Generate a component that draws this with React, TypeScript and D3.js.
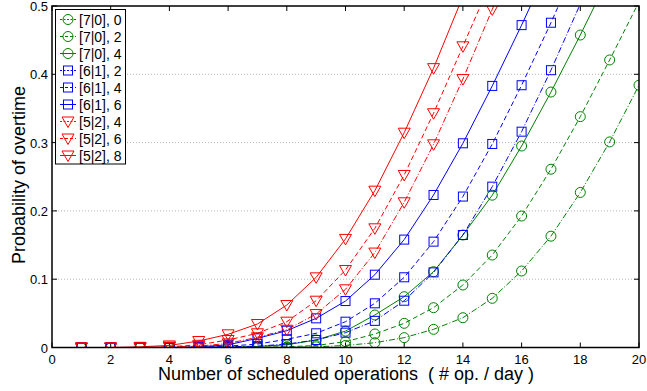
import React from 'react';
import * as d3 from 'd3';

const seriesNames = ['[7|0], 0', '[7|0], 2', '[7|0], 4', '[6|1], 2', '[6|1], 4', '[6|1], 6', '[5|2], 4', '[5|2], 6', '[5|2], 8'];

// values at x = 1, 2, 3, ... (points above 0.5 are clipped, as in the original)
const g70_0 = [0, 0, 0, 0, 0, 0, 0, 0.0005, 0.001, 0.003, 0.007, 0.0144, 0.0266, 0.0436, 0.072, 0.112, 0.163, 0.227, 0.301, 0.384];
const g70_2 = [0, 0, 0, 0, 0, 0, 0.0005, 0.001, 0.003, 0.0085, 0.0198, 0.0354, 0.0583, 0.0915, 0.1354, 0.1925, 0.261, 0.338, 0.421, 0.506];
const g70_4 = [0, 0, 0, 0, 0, 0.0005, 0.0015, 0.004, 0.011, 0.024, 0.0476, 0.0744, 0.111, 0.1647, 0.223, 0.295, 0.374, 0.4575, 0.545];
const b61_2 = [0, 0, 0, 0, 0, 0.001, 0.002, 0.005, 0.011, 0.0217, 0.039, 0.0685, 0.11, 0.1647, 0.2355, 0.316, 0.406, 0.503];
const b61_4 = [0, 0, 0, 0, 0.0005, 0.002, 0.005, 0.012, 0.0208, 0.0378, 0.0647, 0.1028, 0.155, 0.221, 0.298, 0.384, 0.4755, 0.572];
const b61_6 = [0, 0, 0, 0, 0.001, 0.004, 0.0134, 0.0246, 0.0427, 0.068, 0.1066, 0.158, 0.2233, 0.299, 0.383, 0.472, 0.565];
const r52_4 = [0, 0, 0, 0.001, 0.002, 0.006, 0.015, 0.026, 0.049, 0.0852, 0.139, 0.2126, 0.2975, 0.393, 0.495, 0.6];
const r52_6 = [0, 0, 0, 0.001, 0.004, 0.011, 0.0208, 0.0378, 0.0685, 0.1135, 0.1745, 0.2526, 0.343, 0.441, 0.54];
const r52_8 = [0, 0, 0.001, 0.003, 0.0095, 0.0193, 0.0344, 0.0622, 0.1027, 0.159, 0.2296, 0.3145, 0.409, 0.514];

const seriesValues = [g70_0, g70_2, g70_4, b61_2, b61_4, b61_6, r52_4, r52_6, r52_8];
const seriesColors = ['#008000', '#008000', '#008000', '#0000ff', '#0000ff', '#0000ff', '#ff0000', '#ff0000', '#ff0000'];
const seriesDash = ['6,2,1,2', '5,3', '', '6,2,1,2', '5,3', '', '6,2,1,2', '5,3', ''];
const seriesMarkers = ['circle', 'circle', 'circle', 'square', 'square', 'square', 'triangle', 'triangle', 'triangle'];

const xTicks = [0, 2, 4, 6, 8, 10, 12, 14, 16, 18, 20];
const yTicks = [0, 0.1, 0.2, 0.3, 0.4, 0.5];
const yGrid = [0.1, 0.2, 0.3, 0.4];

const W = 647;
const H = 391;
const FONT = '"Liberation Sans", Arial, Helvetica, sans-serif';

function Marker({ kind, x, y, color }: { kind: string; x: number; y: number; color: string }) {
  if (kind === 'circle') return <circle cx={x} cy={y} r={5} fill="none" stroke={color} strokeWidth={1} />;
  if (kind === 'square') return <rect x={x - 4.5} y={y - 4.5} width={9} height={9} fill="none" stroke={color} strokeWidth={1} />;
  const p = `${x - 6},${y - 4.5} ${x + 6},${y - 4.5} ${x},${y + 6}`;
  return <polygon points={p} fill="none" stroke={color} strokeWidth={1} />;
}

export default function App() {
  const x = d3.scaleLinear().domain([0, 20]).range([52, 639]);
  const y = d3.scaleLinear().domain([0, 0.5]).range([347.5, 6]);
  const line = d3.line<number>().x((_, i) => x(i + 1)).y((d) => y(d));
  const [x0, x1] = x.range();
  const [yb, yt] = y.range();

  return (
    <svg width={W} height={H} style={{ position: 'absolute', left: 0, top: 0, background: '#fff' }} fontFamily={FONT}>
      <defs>
        <clipPath id="plotclip">
          <rect x={x0} y={yt} width={x1 - x0} height={yb - yt} />
        </clipPath>
      </defs>
      <rect x={0} y={0} width={W} height={H} fill="#fff" />
      {yGrid.map((t) => (
        <line key={t} x1={x0} x2={x1} y1={y(t)} y2={y(t)} stroke="#b4b4b4" strokeWidth={1} strokeDasharray="1,2" />
      ))}
      {/* ticks */}
      {xTicks.map((t) => (
        <g key={'xt' + t}>
          <line x1={x(t)} x2={x(t)} y1={yb} y2={yb - 5} stroke="#000" />
          <line x1={x(t)} x2={x(t)} y1={yt} y2={yt + 5} stroke="#000" />
          <text x={x(t)} y={363.5} fontSize={13} textAnchor="middle" fill="#000">{t}</text>
        </g>
      ))}
      {yTicks.map((t) => (
        <g key={'yt' + t}>
          <line x1={x0} x2={x0 + 5} y1={y(t)} y2={y(t)} stroke="#000" />
          <line x1={x1} x2={x1 - 5} y1={y(t)} y2={y(t)} stroke="#000" />
          <text x={48} y={y(t) + 5} fontSize={13} textAnchor="end" fill="#000">{t}</text>
        </g>
      ))}
      <g clipPath="url(#plotclip)">
        {seriesValues.map((vals, si) => (
          <path key={'l' + si} d={line(vals) || ''} fill="none" stroke={seriesColors[si]} strokeWidth={1}
            strokeDasharray={seriesDash[si] || undefined} />
        ))}
        {seriesValues.map((vals, si) => (
          <g key={'m' + si}>
            {vals.map((v, i) => v <= 0.5 ? (
              <Marker key={i} kind={seriesMarkers[si]} x={x(i + 1)} y={y(v)} color={seriesColors[si]} />
            ) : null)}
          </g>
        ))}
      </g>
      <rect x={x0} y={yt} width={x1 - x0} height={yb - yt} fill="none" stroke="#000" strokeWidth={1.5} />
      {/* legend */}
      <g>
        <rect x={55.5} y={9.5} width={70} height={154.5} fill="#fff" stroke="#000" strokeWidth={1} />
        {seriesNames.map((name, i) => {
          const cy = 19.5 + i * 17;
          return (
            <g key={'lg' + i}>
              <line x1={60} x2={76} y1={cy} y2={cy} stroke={seriesColors[i]} strokeWidth={1}
                strokeDasharray={seriesDash[i] ? (seriesDash[i] === '5,3' ? '3,2' : '2,1.5') : undefined} />
              <Marker kind={seriesMarkers[i]} x={68} y={cy} color={seriesColors[i]} />
              <text x={79} y={cy + 5} fontSize={14} fill="#000">{name}</text>
            </g>
          );
        })}
      </g>
      <text x={346} y={379.5} fontSize={18} textAnchor="middle" fill="#000" xmlSpace="preserve">
        {'Number of scheduled operations  ( # op. / day )'}
      </text>
      <text transform={`translate(25,175) rotate(-90)`} fontSize={18} textAnchor="middle" fill="#000">
        Probability of overtime
      </text>
    </svg>
  );
}
